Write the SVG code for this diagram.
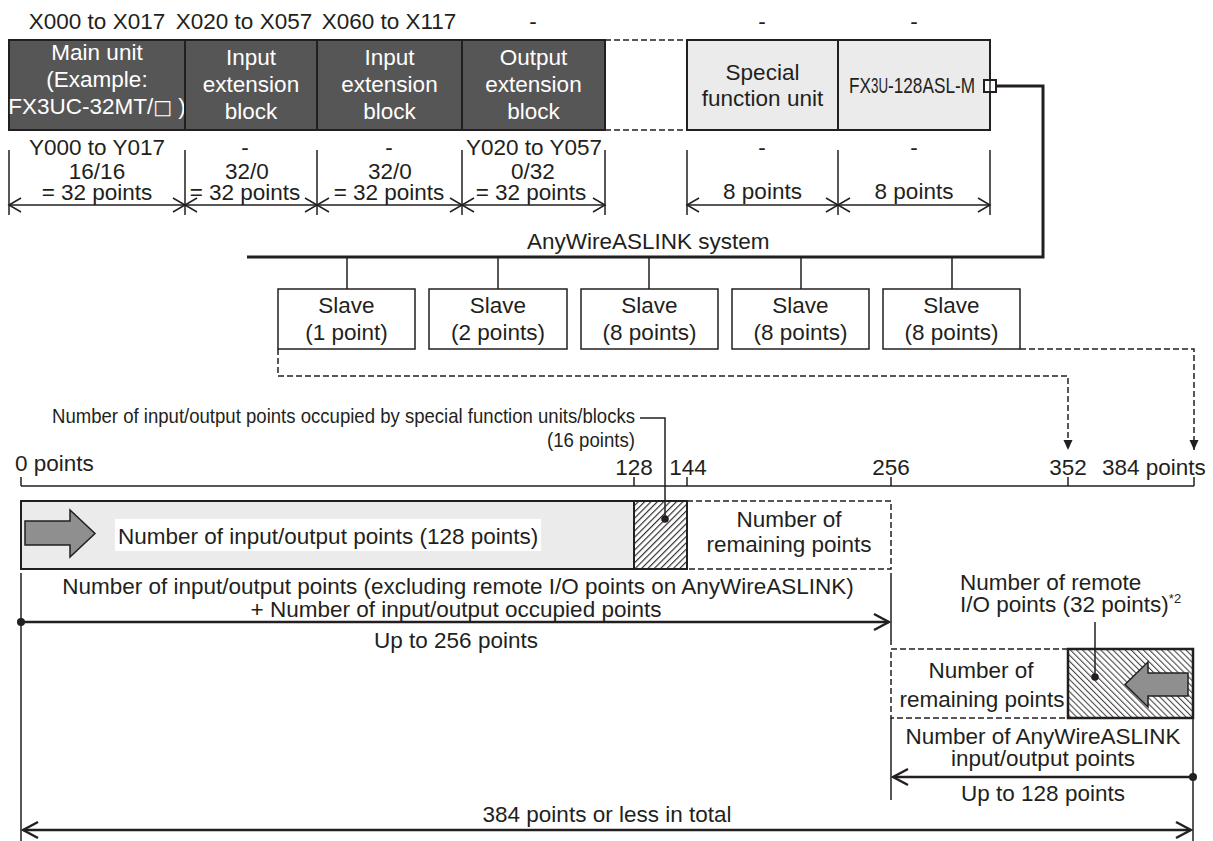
<svg xmlns="http://www.w3.org/2000/svg" width="1213" height="841" viewBox="0 0 1213 841">
  <style>
    text { font-family: "Liberation Sans", Arial, sans-serif; font-size: 22.5px; fill: #231f20; }
    .c { text-anchor: middle; }
    .w { fill: #ffffff; }
    .cond { font-size: 21px; }
    .ln { stroke: #231f20; stroke-width: 1.5; fill: none; }
    .thick { stroke: #231f20; stroke-width: 3; fill: none; }
    .dash { stroke: #231f20; stroke-width: 1.5; fill: none; stroke-dasharray: 6 3; }
    .dark { fill: #575656; stroke: #231f20; stroke-width: 2; }
    .light { fill: #ebebeb; stroke: #231f20; stroke-width: 2; }
    .box { fill: #ffffff; stroke: #231f20; stroke-width: 1.5; }
    .dim { stroke: #231f20; stroke-width: 1.5; fill: none; marker-start: url(#open); marker-end: url(#open); }
    .garrow { fill: #8f8f8f; stroke: #231f20; stroke-width: 1.5; }
  </style>
  <defs>
    <marker id="open" viewBox="-15 -9 17 18" markerWidth="17" markerHeight="18" refX="0" refY="0" markerUnits="userSpaceOnUse" orient="auto-start-reverse">
      <path d="M-12,-7 L0,0 L-12,7" fill="none" stroke="#231f20" stroke-width="1.5"/>
    </marker>
    <marker id="openL" viewBox="-18 -10 20 20" markerWidth="20" markerHeight="20" refX="0" refY="0" markerUnits="userSpaceOnUse" orient="auto-start-reverse">
      <path d="M-15,-8 L0,0 L-15,8" fill="none" stroke="#231f20" stroke-width="2.5"/>
    </marker>
    <marker id="tri" viewBox="-10 -6 11 12" markerWidth="11" markerHeight="12" refX="0" refY="0" markerUnits="userSpaceOnUse" orient="auto">
      <path d="M-10,-4.5 L0,0 L-10,4.5 Z" fill="#231f20"/>
    </marker>
    <pattern id="hatchF" patternUnits="userSpaceOnUse" width="4.5" height="4.5" patternTransform="rotate(45)">
      <line x1="0.6" y1="0" x2="0.6" y2="4.5" stroke="#231f20" stroke-width="1.1"/>
    </pattern>
    <pattern id="hatchB" patternUnits="userSpaceOnUse" width="4.3" height="4" patternTransform="rotate(-45)">
      <line x1="0.6" y1="0" x2="0.6" y2="4" stroke="#231f20" stroke-width="0.9"/>
    </pattern>
  </defs>

  <rect width="1213" height="841" fill="#ffffff"/>

  <!-- address labels above the blocks -->
  <g id="input-addresses">
    <text x="97" y="29" class="c">X000 to X017</text>
    <text x="244" y="29" class="c">X020 to X057</text>
    <text x="389" y="29" class="c">X060 to X117</text>
    <text x="533" y="29" class="c">-</text>
    <text x="762" y="29" class="c">-</text>
    <text x="914" y="29" class="c">-</text>
  </g>

  <!-- PLC system blocks -->
  <g id="main-unit">
    <rect x="9" y="40" width="176" height="90" class="dark"/>
    <text x="97" y="60" class="c w">Main unit</text>
    <text x="97" y="87" class="c w">(Example:</text>
    <text x="97" y="114" class="c w">FX3UC-32MT/<tspan font-family="'DejaVu Sans', sans-serif" font-size="20">□</tspan> )</text>
  </g>
  <g id="input-block-1">
    <rect x="185" y="40" width="132" height="90" class="dark"/>
    <text x="251" y="65" class="c w">Input</text>
    <text x="251" y="92" class="c w">extension</text>
    <text x="251" y="119" class="c w">block</text>
  </g>
  <g id="input-block-2">
    <rect x="317" y="40" width="145" height="90" class="dark"/>
    <text x="389.5" y="65" class="c w">Input</text>
    <text x="389.5" y="92" class="c w">extension</text>
    <text x="389.5" y="119" class="c w">block</text>
  </g>
  <g id="output-block">
    <rect x="462" y="40" width="143" height="90" class="dark"/>
    <text x="533.5" y="65" class="c w">Output</text>
    <text x="533.5" y="92" class="c w">extension</text>
    <text x="533.5" y="119" class="c w">block</text>
  </g>
  <g id="gap">
    <line x1="605" y1="40" x2="687" y2="40" class="dash"/>
    <line x1="605" y1="130" x2="687" y2="130" class="dash"/>
  </g>
  <g id="special-function-unit">
    <rect x="687" y="40" width="151" height="90" class="light"/>
    <text x="762.5" y="80" class="c">Special</text>
    <text x="762.5" y="106" class="c">function unit</text>
  </g>
  <g id="aslink-master">
    <rect x="838" y="40" width="152" height="90" class="light"/>
    <!-- model name in a condensed setting: FX, small 3U, then the rest -->
    <text x="849" y="93" font-size="22" textLength="22" lengthAdjust="spacingAndGlyphs">FX</text>
    <text x="871" y="93" font-size="17" textLength="17" lengthAdjust="spacingAndGlyphs">3U</text>
    <text x="888" y="93" font-size="22" textLength="87" lengthAdjust="spacingAndGlyphs">-128ASL-M</text>
    <rect x="984" y="80" width="12" height="12" fill="#ffffff" stroke="#231f20" stroke-width="2"/>
    <line x1="990" y1="80" x2="990" y2="92" stroke="#231f20" stroke-width="1.5"/>
  </g>

  <!-- output addresses and point counts -->
  <g id="output-addresses">
    <text x="97" y="155" class="c">Y000 to Y017</text>
    <text x="245" y="155" class="c">-</text>
    <text x="389" y="155" class="c">-</text>
    <text x="534" y="155" class="c">Y020 to Y057</text>
    <text x="762" y="155" class="c">-</text>
    <text x="914" y="155" class="c">-</text>
    <text x="97" y="179" class="c">16/16</text>
    <text x="247" y="179" class="c">32/0</text>
    <text x="390" y="179" class="c">32/0</text>
    <text x="533" y="179" class="c">0/32</text>
    <text x="97" y="200" class="c">= 32 points</text>
    <text x="245" y="200" class="c">= 32 points</text>
    <text x="389" y="200" class="c">= 32 points</text>
    <text x="531" y="200" class="c">= 32 points</text>
    <text x="762.5" y="199" class="c">8 points</text>
    <text x="914" y="199" class="c">8 points</text>
  </g>

  <!-- dimension lines under the blocks -->
  <g id="dimensions">
    <path class="ln" d="M9,150 V215 M185,150 V215 M317,150 V215 M462,150 V215 M605,150 V215 M687,150 V215 M838,150 V215 M990,150 V215"/>
    <line x1="9" y1="205" x2="185" y2="205" class="dim"/>
    <line x1="185" y1="205" x2="317" y2="205" class="dim"/>
    <line x1="317" y1="205" x2="462" y2="205" class="dim"/>
    <line x1="462" y1="205" x2="605" y2="205" class="dim"/>
    <line x1="687" y1="205" x2="838" y2="205" class="dim"/>
    <line x1="838" y1="205" x2="990" y2="205" class="dim"/>
  </g>

  <!-- AnyWireASLINK network -->
  <g id="connectors">
    <polyline points="996,86 1043,86 1043,257 247,257" class="thick"/>
    <path class="ln" d="M347,257 V289 M498,257 V289 M649,257 V289 M801,257 V289 M952,257 V289"/>
    <polyline points="278,349 278,376 1068,376 1068,450" class="dash" marker-end="url(#tri)"/>
    <polyline points="1020,349 1194,349 1194,450" class="dash" marker-end="url(#tri)"/>
  </g>
  <text x="527" y="249">AnyWireASLINK system</text>

  <g id="slave-1">
    <rect x="278" y="289" width="137" height="60" class="box"/>
    <text x="346.5" y="313" class="c">Slave</text>
    <text x="346.5" y="340" class="c">(1 point)</text>
  </g>
  <g id="slave-2">
    <rect x="429" y="289" width="138" height="60" class="box"/>
    <text x="498" y="313" class="c">Slave</text>
    <text x="498" y="340" class="c">(2 points)</text>
  </g>
  <g id="slave-3">
    <rect x="581" y="289" width="137" height="60" class="box"/>
    <text x="649.5" y="313" class="c">Slave</text>
    <text x="649.5" y="340" class="c">(8 points)</text>
  </g>
  <g id="slave-4">
    <rect x="732" y="289" width="137" height="60" class="box"/>
    <text x="800.5" y="313" class="c">Slave</text>
    <text x="800.5" y="340" class="c">(8 points)</text>
  </g>
  <g id="slave-5">
    <rect x="883" y="289" width="137" height="60" class="box"/>
    <text x="951.5" y="313" class="c">Slave</text>
    <text x="951.5" y="340" class="c">(8 points)</text>
  </g>

  <!-- point scale -->
  <g id="scale">
    <line x1="21" y1="486" x2="1194" y2="486" class="ln"/>
    <path class="ln" d="M21,477 V486 M634,477 V486 M687,477 V486 M891,477 V486 M1068,477 V486 M1194,477 V486"/>
    <text x="15" y="471">0 points</text>
    <text x="634" y="475" class="c">128</text>
    <text x="688" y="475" class="c">144</text>
    <text x="891" y="475" class="c">256</text>
    <text x="1068" y="475" class="c">352</text>
    <text x="1102" y="475">384 points</text>
  </g>

  <!-- occupied points callout -->
  <g id="occupied-callout">
    <text x="52" y="423" class="cond" textLength="583" lengthAdjust="spacingAndGlyphs">Number of input/output points occupied by special function units/blocks</text>
    <text x="547" y="447" class="cond" textLength="88" lengthAdjust="spacingAndGlyphs">(16 points)</text>
    <polyline points="640,418 665,418 665,519" class="ln"/>
  </g>

  <!-- local input/output bar -->
  <g id="io-bar">
    <rect x="21" y="501" width="613" height="68" class="light"/>
    <polygon points="25,521 70,521 70,510 95,533.5 70,557 70,545 25,545" class="garrow"/>
    <rect x="115" y="519" width="426" height="32" fill="#ffffff"/>
    <text x="118" y="544">Number of input/output points (128 points)</text>
  </g>
  <g id="occupied-points">
    <rect x="634" y="501" width="53" height="68" fill="url(#hatchF)" stroke="#231f20" stroke-width="2"/>
    <circle cx="665" cy="519" r="3.8" fill="#231f20"/>
  </g>
  <g id="remaining-local">
    <polyline points="687,501 891,501 891,569 687,569" class="dash"/>
    <text x="789" y="527" class="c">Number of</text>
    <text x="789" y="552" class="c">remaining points</text>
  </g>

  <!-- limits -->
  <g id="local-limit">
    <path class="ln" d="M21,573 V841 M891,573 V645 M891,718 V800 M1193,718 V841"/>
    <text x="458" y="594" class="c">Number of input/output points (excluding remote I/O points on AnyWireASLINK)</text>
    <text x="456" y="617" class="c">+ Number of input/output occupied points</text>
    <line x1="21" y1="622" x2="889" y2="622" stroke="#231f20" stroke-width="2.5" marker-end="url(#openL)"/>
    <circle cx="21" cy="622" r="4" fill="#231f20"/>
    <text x="456" y="648" class="c">Up to 256 points</text>
  </g>

  <g id="remote-io">
    <text x="960" y="590">Number of remote</text>
    <text x="960" y="612">I/O points (32 points)<tspan font-size="13" dy="-9">*2</tspan></text>
    <polyline points="1068,649 891,649 891,718 1068,718" class="dash"/>
    <text x="981" y="678" class="c">Number of</text>
    <text x="982" y="707" class="c">remaining points</text>
    <rect x="1068" y="649" width="125" height="69" fill="url(#hatchB)" stroke="#231f20" stroke-width="2.5"/>
    <polygon points="1188,673 1148,673 1148,662 1125,684.5 1148,707 1148,696 1188,696" class="garrow"/>
    <line x1="1095" y1="622" x2="1095" y2="677" class="ln"/>
    <circle cx="1095" cy="677" r="3.8" fill="#231f20"/>
  </g>

  <g id="aslink-limit">
    <text x="1043" y="744" class="c">Number of AnyWireASLINK</text>
    <text x="1043" y="766" class="c">input/output points</text>
    <line x1="1193" y1="777" x2="893" y2="777" stroke="#231f20" stroke-width="2.5" marker-end="url(#openL)"/>
    <circle cx="1193" cy="777" r="4" fill="#231f20"/>
    <text x="1043" y="801" class="c">Up to 128 points</text>
  </g>

  <g id="total-limit">
    <text x="607" y="822" class="c">384 points or less in total</text>
    <line x1="23" y1="830" x2="1191" y2="830" stroke="#231f20" stroke-width="2.5" marker-start="url(#openL)" marker-end="url(#openL)"/>
  </g>
</svg>
